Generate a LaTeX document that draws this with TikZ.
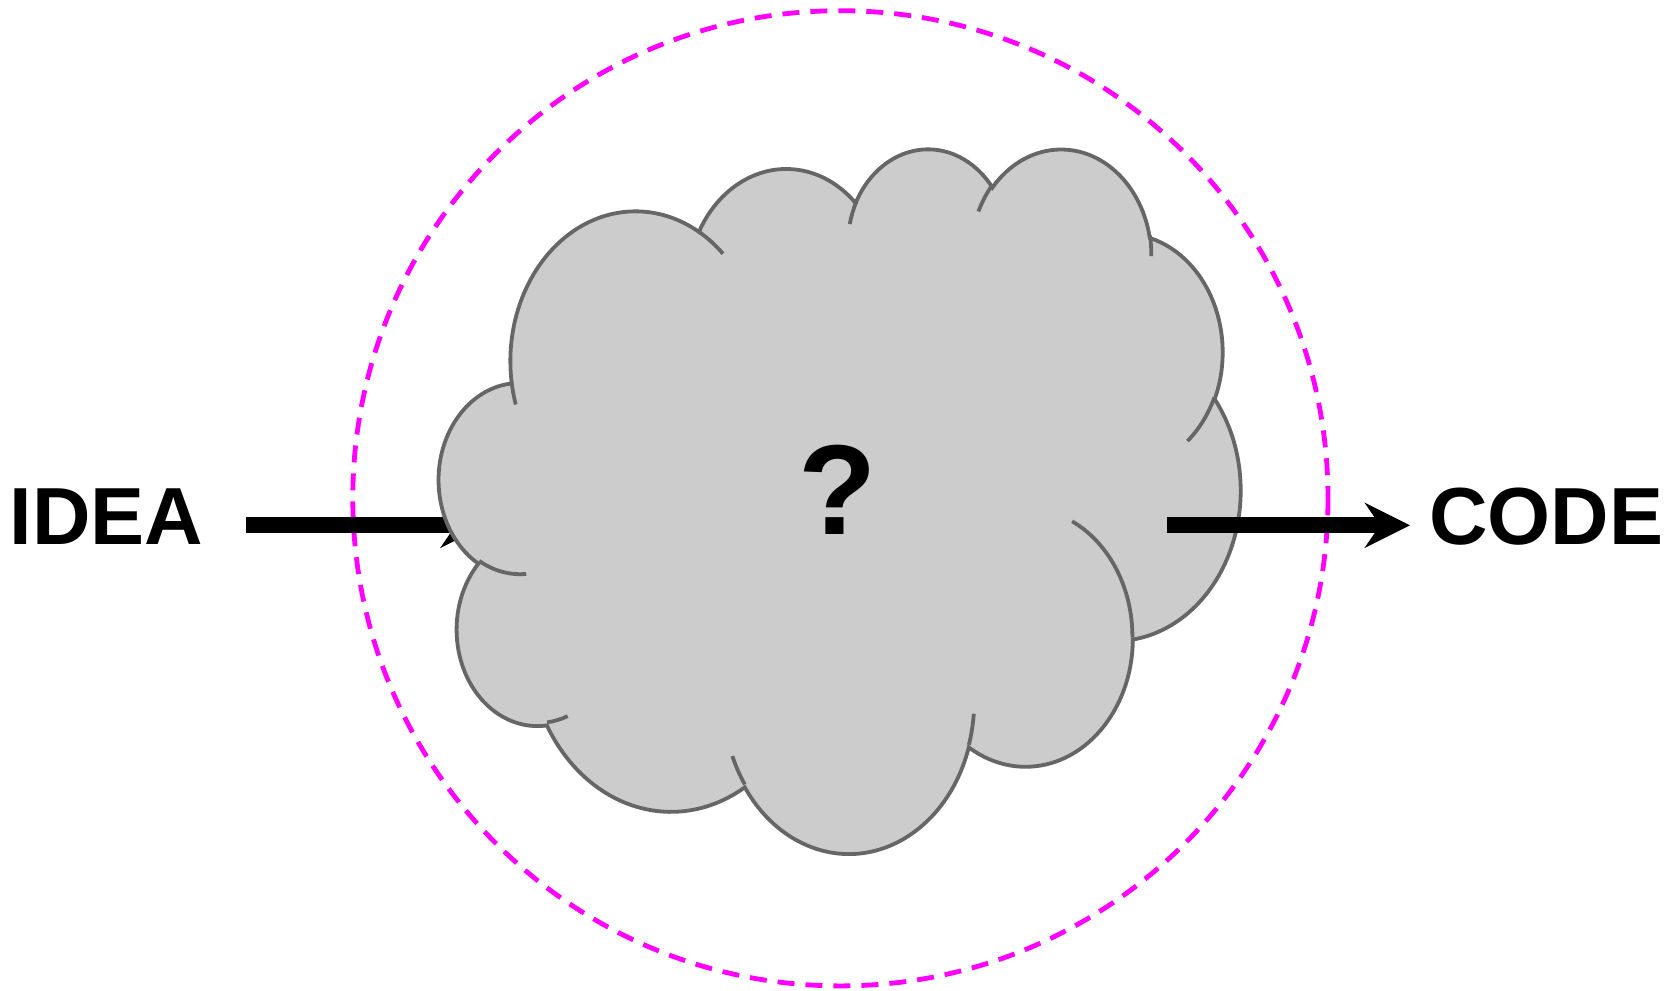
\documentclass[tikz,border=0pt]{standalone}
\usepackage{fontspec}
\setmainfont{Liberation Sans}
\usetikzlibrary{arrows.meta}
\definecolor{cloudfill}{HTML}{CCCCCC}
\definecolor{cloudline}{HTML}{666666}
\definecolor{ringpink}{HTML}{FF00FF}
% one lobe of the cloud: x radius, y radius, start angle, sweep (angles as seen from the centre)
\newcommand\lobe[4]{arc[start angle={atan2((#1)*sin(#3),(#2)*cos(#3))},%
 delta angle={mod(atan2((#1)*sin((#3)+(#4)),(#2)*cos((#3)+(#4)))-atan2((#1)*sin(#3),(#2)*cos(#3))+720,360)},%
 x radius=#1,y radius=#2]}

\begin{document}
\begin{tikzpicture}[x=0.5pt,y=-0.5pt,flow/.style={line width=8pt,-{Stealth[length=22.5pt,width=22.3pt,inset=7.5pt]}},word/.style={font=\fontsize{40.5}{48}\selectfont\bfseries,inner sep=0pt,anchor=base west},puff/.style={draw=cloudline,line width=1.9pt},ring/.style={draw=ringpink,line width=2.4pt,dash pattern=on 8.5pt off 5.5pt}]
\useasboundingbox (0,0) rectangle (1666,991);
\draw[ring] (840.4,498.3) circle[radius=487.6];
\node[word] (idea) at (9.5,544.3) {IDEA};
\node[word] (code) at (1428.7,544.3) {CODE};
\coordinate (in) at (485.7,525.3);
\coordinate (out) at (1166.7,525.3);
\draw[flow,shorten <=21pt] (idea.east |- in) -- (in);
% cloud, in 1/100 of the 43200 shape units
\begin{scope}[shift={(439.2,147.05)},x=0.92725pt,y=-0.8153pt]
\path[puff,fill=cloudfill] (39.00,143.70) \lobe{67.53}{91.90}{-190.4875}{123.7805}
 \lobe{53.33}{72.67}{-144.1024}{89.9452} \lobe{43.65}{59.45}{-145.8079}{99.7230}
 \lobe{48.57}{65.95}{-130.9861}{117.2417} \lobe{53.33}{72.73}{-78.7089}{109.0269}
 \lobe{67.75}{92.20}{-46.2673}{130.2690} \lobe{57.85}{78.67}{0.6250}{114.0333}
 \lobe{67.52}{92.15}{22.4516}{115.1726} \lobe{77.20}{105.43}{66.2426}{75.7110}
 \lobe{43.60}{59.18}{-274.9421}{146.7356} \lobe{43.45}{59.45}{-246.8285}{152.5189} -- cycle;
\draw[puff] (46.93,261.77) \lobe{43.45}{59.45}{86.742}{26.4295}
 (69.28,348.99) \lobe{43.60}{59.18}{73.6105}{11.4475}
 (164.78,390.90) \lobe{67.52}{92.15}{137.6242}{14.0811}
 (288.27,347.51) \lobe{67.52}{92.15}{6.4533}{15.9984}
 (341.29,229.54) \lobe{57.85}{78.67}{-70.2924}{70.9174}
 (417.98,153.54) \lobe{53.33}{72.73}{30.3180}{27.7515}
 (383.24,54.26) \lobe{48.57}{65.95}{-13.7443}{14.8589}
 (290.78,39.52) \lobe{48.57}{65.95}{-149.1815}{18.1954}
 (221.41,47.20) \lobe{43.65}{59.45}{-163.4943}{17.6864}
 (140.00,51.92) \lobe{67.53}{91.90}{-66.7070}{12.3194}
 (41.27,157.89) \lobe{67.53}{91.90}{157.6544}{11.8582};
\end{scope}
\node[font=\fontsize{64}{72}\selectfont\bfseries,inner sep=0pt,anchor=base] (ask) at (837.5,534) {?};
\draw[flow,shorten >=9.35pt] (out) -- (code.west |- out);
\end{tikzpicture}
\end{document}
